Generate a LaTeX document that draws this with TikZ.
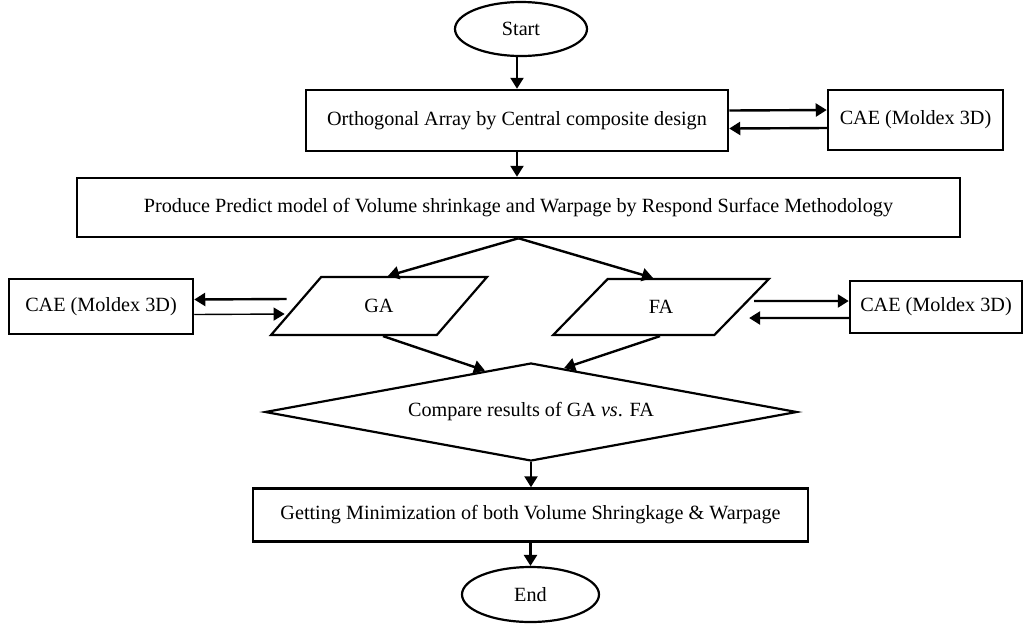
\documentclass[tikz,border=0pt]{standalone}
\usepackage{fontspec}
\setmainfont{Liberation Serif}
\usetikzlibrary{arrows.meta, shapes.geometric}

\begin{document}
\begin{tikzpicture}[
  x=0.5pt, y=-0.5pt,
  font=\fontsize{10.1}{12}\selectfont,
  proc/.style={
    draw=black, line width=1.25pt, fill=white,
    align=center, inner sep=0pt, minimum height=30pt
  },
  term/.style={
    ellipse, draw=black, line width=1.1pt,
    inner sep=0pt, minimum width=68pt, minimum height=27pt
  },
  io/.style={
    trapezium, trapezium left angle=47, trapezium right angle=133,
    trapezium stretches=true, draw=black, line width=1.1pt,
    inner sep=0pt, minimum width=108pt, minimum height=29pt
  },
  decide/.style={
    diamond, shape aspect=5.4, draw=black, line width=1.1pt, inner sep=0pt,
    minimum width=266pt, minimum height=49pt
  },
  flow/.style={
    -{Triangle[length=5.5pt, width=6.5pt]},
    draw=black, line width=1.2pt
  }
]
\useasboundingbox (0,0) rectangle (1024,623);

% ----- Start -----
\node[term, minimum width=66pt] (start) at (521, 29) {Start};

% ----- Design of experiments -----
\node[proc, minimum width=211pt, minimum height=30.5pt] (ortho) at (517, 120.5)
  {Orthogonal Array by Central composite design};
\node[proc, minimum width=87.5pt] (caeA) at (915.5, 120) {CAE (Moldex 3D)};
\draw[flow] ([yshift=5pt]ortho.east) -- ([yshift=5pt]caeA.west);
\draw[flow] ([yshift=-4pt]caeA.west) -- ([yshift=-4pt]ortho.east);
\draw[flow] (start.south -| ortho.north) -- (ortho.north);

% ----- Predict model -----
\node[proc, minimum width=441.5pt, minimum height=29.5pt] (predict) at (518.5, 207.5)
  {Produce Predict model of Volume shrinkage and Warpage by Respond Surface Methodology};
\draw[flow] (ortho.south) -- (ortho.south |- predict.north);

% ----- Optimisation -----
\node[io] (ga) at (379, 306) {GA};
\node[io, minimum height=28pt] (fa) at (661, 307) {FA};
\node[proc, minimum width=92pt, minimum height=27.5pt] (caeB) at (101, 306.5) {CAE (Moldex 3D)};
\node[proc, minimum width=86pt, minimum height=26pt] (caeC) at (936, 307) {CAE (Moldex 3D)};
\draw[flow] (predict.south) -- ([xshift=4.5pt]ga.north);
\draw[flow] (predict.south) -- ([xshift=-4pt]fa.north);
\draw[flow] ([xshift=-4pt, yshift=3.5pt]ga.west) -- ([yshift=3.5pt]caeB.east);
\draw[flow, line width=0.7pt] ([yshift=-4pt]caeB.east) -- ([xshift=-5pt, yshift=-4pt]ga.west);
\draw[flow] ([xshift=5.5pt, yshift=3pt]fa.east) -- ([yshift=3pt]caeC.west);
\draw[flow] ([yshift=-5.5pt]caeC.west) -- ([xshift=3pt, yshift=-5.5pt]fa.east);

% ----- Comparison -----
\node[decide] (cmp) at (531, 412) {Compare results of GA \textit{vs}. FA};
\draw[flow] ([xshift=2pt]ga.south) -- (cmp.138);
\draw[flow] ([xshift=-0.5pt]fa.south) -- (cmp.53);

% ----- Result -----
\node[proc, minimum width=277.5pt, minimum height=26.5pt] (mini) at (530.5, 515)
  {Getting Minimization of both Volume Shringkage \& Warpage};
\node[term, minimum width=68.5pt, minimum height=27.5pt] (end) at (530.5, 594.5) {End};
\draw[flow] (cmp.south) -- (cmp.south |- mini.north);
\draw[flow] (mini.south) -- (mini.south |- end.north);

\end{tikzpicture}
\end{document}
